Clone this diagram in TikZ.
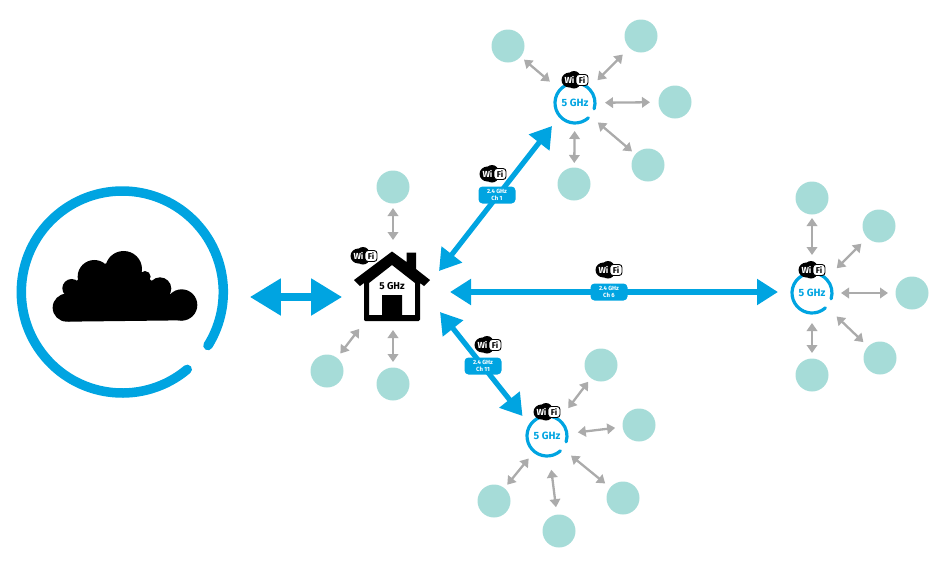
\documentclass[tikz,border=0pt]{standalone}
\usepackage{fontspec}
\setmainfont{Fira Sans}
\usetikzlibrary{arrows.meta}
\definecolor{wblue}{HTML}{00A4E1}
\definecolor{wteal}{HTML}{A6DCD8}
\definecolor{wgrey}{HTML}{ABABAB}
\tikzset{
  client/.style={circle,fill=wteal,minimum size=33pt,inner sep=0pt},
  hub/.style={circle,minimum size=40pt,inner sep=0pt,font=\fontsize{10.5}{11}\selectfont\bfseries,text=wblue},
  ghz/.style={wblue,line width=3.2pt,line cap=round},
  glink/.style={wgrey,line width=2.3pt,{Triangle[length=8pt,width=10.5pt]}-{Triangle[length=8pt,width=10.5pt]}},
  blink/.style={wblue,line width=5.2pt,{Triangle[length=21pt,width=25pt]}-{Triangle[length=21pt,width=25pt]}},
  chan/.style={fill=wblue,rounded corners=4pt,minimum width=37pt,minimum height=17pt,inner sep=0pt,text=white,align=center,font=\fontsize{6}{7}\selectfont\bfseries},
  wifiblob/.style={fill=black},
  wifiwi/.style={text=white,inner sep=0pt,font=\fontsize{8.8}{9}\selectfont\bfseries},
  wififi/.style={fill=white,draw=black,line width=.9pt,rounded corners=3pt,minimum width=12pt,minimum height=11pt,inner sep=0pt,text=black,font=\fontsize{8.5}{9}\selectfont\bfseries},
}
\newcommand{\wifilogo}[3]{%
  \begin{scope}[shift={(#2,#3)}]
    \fill[wifiblob] (-5.5,0) ellipse [x radius=8,y radius=7.5];
    \fill[wifiblob] (-1,-2.5) ellipse [x radius=6.5,y radius=6.5];
    \fill[wifiblob] (-1,2.5) ellipse [x radius=6.5,y radius=6];
    \node[wififi] (#1Fi) at (7,0) {Fi};
    \node[wifiwi] (#1Wi) at (-5.5,0) {Wi};
  \end{scope}}
\newcommand{\glnk}[4]{\draw[glink,shorten <=#3pt,shorten >=#4pt] (#1.center) -- (#2.center);}
\begin{document}
\begin{tikzpicture}[x=1pt,y=-1pt]
\useasboundingbox (0,0) rectangle (950,563);

% cloud with its ring
\coordinate (ringc) at (122.3,292);
\draw[wblue,line width=9.5pt,line cap=round] (ringc) ++(50:101) arc[start angle=50,end angle=392,radius=101];
\begin{scope}[shift={(0,170)},x=0.3333pt,y=-0.3333pt]
  \fill[black] (200,413) circle (42);
  \fill[black] (545,405) circle (47);
  \fill[black] (215,355) circle (28);
  \fill[black] (283,320) circle (50);
  \fill[black] (371,297) ellipse [x radius=55,y radius=54];
  \fill[black] (435,320) circle (17);
  \fill[black] (480,356) circle (34);
  \fill[black] (205,455) -- (550,451) -- (590,405) -- (515,375) -- (452,330) -- (425,305) -- (318,280) -- (233,330) -- (190,378) -- (160,410) -- cycle;
\end{scope}
\node[inner sep=0pt,minimum width=92pt,minimum height=36pt] (cloudlink) at (296,297) {};
\draw[wblue,line width=8pt,{Triangle[length=31pt,width=35pt]}-{Triangle[length=31pt,width=35pt]}] (cloudlink.west) -- (cloudlink.east);

% hubs
\node[minimum width=76pt,minimum height=70pt,inner sep=0pt] (house) at (392,286) {};
\node[hub] (apT) at (575,103) {5 GHz};
\node[hub] (apR) at (812,293) {5 GHz};
\node[hub] (apB) at (547,436) {5 GHz};

% clients
\node[client] (h1) at (393,187) {};
\node[client] (h2) at (327,371) {};
\node[client] (h3) at (393,384) {};
\node[client] (t1) at (508,46) {};
\node[client] (t2) at (641,36) {};
\node[client] (t3) at (675,102) {};
\node[client] (t4) at (648,165) {};
\node[client] (t5) at (574,184) {};
\node[client] (r1) at (812,198) {};
\node[client] (r2) at (879,226) {};
\node[client] (r3) at (912,293) {};
\node[client] (r4) at (880,358) {};
\node[client] (r5) at (812,375) {};
\node[client] (b1) at (601,365) {};
\node[client] (b2) at (639,425) {};
\node[client] (b3) at (623,498) {};
\node[client] (b4) at (559,531) {};
\node[client] (b5) at (494,501) {};

% grey links
\glnk{t1}{apT}{21}{33}
\glnk{t2}{apT}{26}{32}
\glnk{t3}{apT}{25}{30}
\glnk{t4}{apT}{21}{30}
\glnk{t5}{apT}{21}{28}
\glnk{r1}{apR}{20}{38}
\glnk{r2}{apR}{25}{35}
\glnk{r3}{apR}{24}{29}
\glnk{r4}{apR}{23}{34}
\glnk{r5}{apR}{22}{30}
\glnk{b1}{apB}{21}{35}
\glnk{b2}{apB}{24}{31}
\glnk{b3}{apB}{23}{31}
\glnk{b4}{apB}{24}{34}
\glnk{b5}{apB}{21}{29}
\draw[glink,shorten <=21pt,shorten >=50pt] (h1.center) -- (393,290);
\glnk{h2}{house}{22}{54}
\draw[glink,shorten <=22pt,shorten >=40pt] (h3.center) -- (393,290);

% blue links
\coordinate (hT) at (439,271);
\coordinate (tH) at (552,126);
\coordinate (hR) at (450,292);
\coordinate (rH) at (778,292);
\coordinate (hB) at (440,312);
\coordinate (bH) at (522.5,416);
\draw[blink] (hT) -- (tH);
\draw[blink] (hR) -- (rH);
\draw[blink] (hB) -- (bH);
\node[chan] (chT) at (497,195) {2.4 GHz\\Ch 1};
\node[chan] (chR) at (609,292) {2.4 GHz\\Ch 6};
\node[chan] (chB) at (483,366) {2.4 GHz\\Ch 11};

% house
\fill[black,even odd rule]
  (392,251.5) -- (406.5,262) -- (406.5,252.5) -- (416,252.5) -- (416,269) -- (430,280) -- (424,286) -- (420,283)
  -- (420,319) [rounded corners=1.5pt] -- (420,321) -- (364,321) -- (364,319) [sharp corners] -- (364,283) -- (360,286) -- (354,280) -- cycle
  (392,265) -- (369,283) -- (369,315) -- (382,315) -- (382,295) -- (402,295) -- (402,315) -- (415,315) -- (415,283) -- cycle;
\node[font=\fontsize{10}{10}\selectfont\bfseries,inner sep=0pt] (houselabel) at (392,286) {5 GHz};

% hub rings
\draw[ghz] (apT.center) ++(48:20) arc[start angle=48,end angle=377,radius=20];
\draw[ghz] (apR.center) ++(48:20) arc[start angle=48,end angle=377,radius=20];
\draw[ghz] (apB.center) ++(48:20) arc[start angle=48,end angle=377,radius=20];

% wifi logos
\wifilogo{wH}{364}{256}
\wifilogo{wT}{575}{80}
\wifilogo{wR}{812}{270}
\wifilogo{wB}{547}{412}
\wifilogo{wcT}{493}{174}
\wifilogo{wcR}{609}{270}
\wifilogo{wcB}{488}{345}
\end{tikzpicture}
\end{document}
